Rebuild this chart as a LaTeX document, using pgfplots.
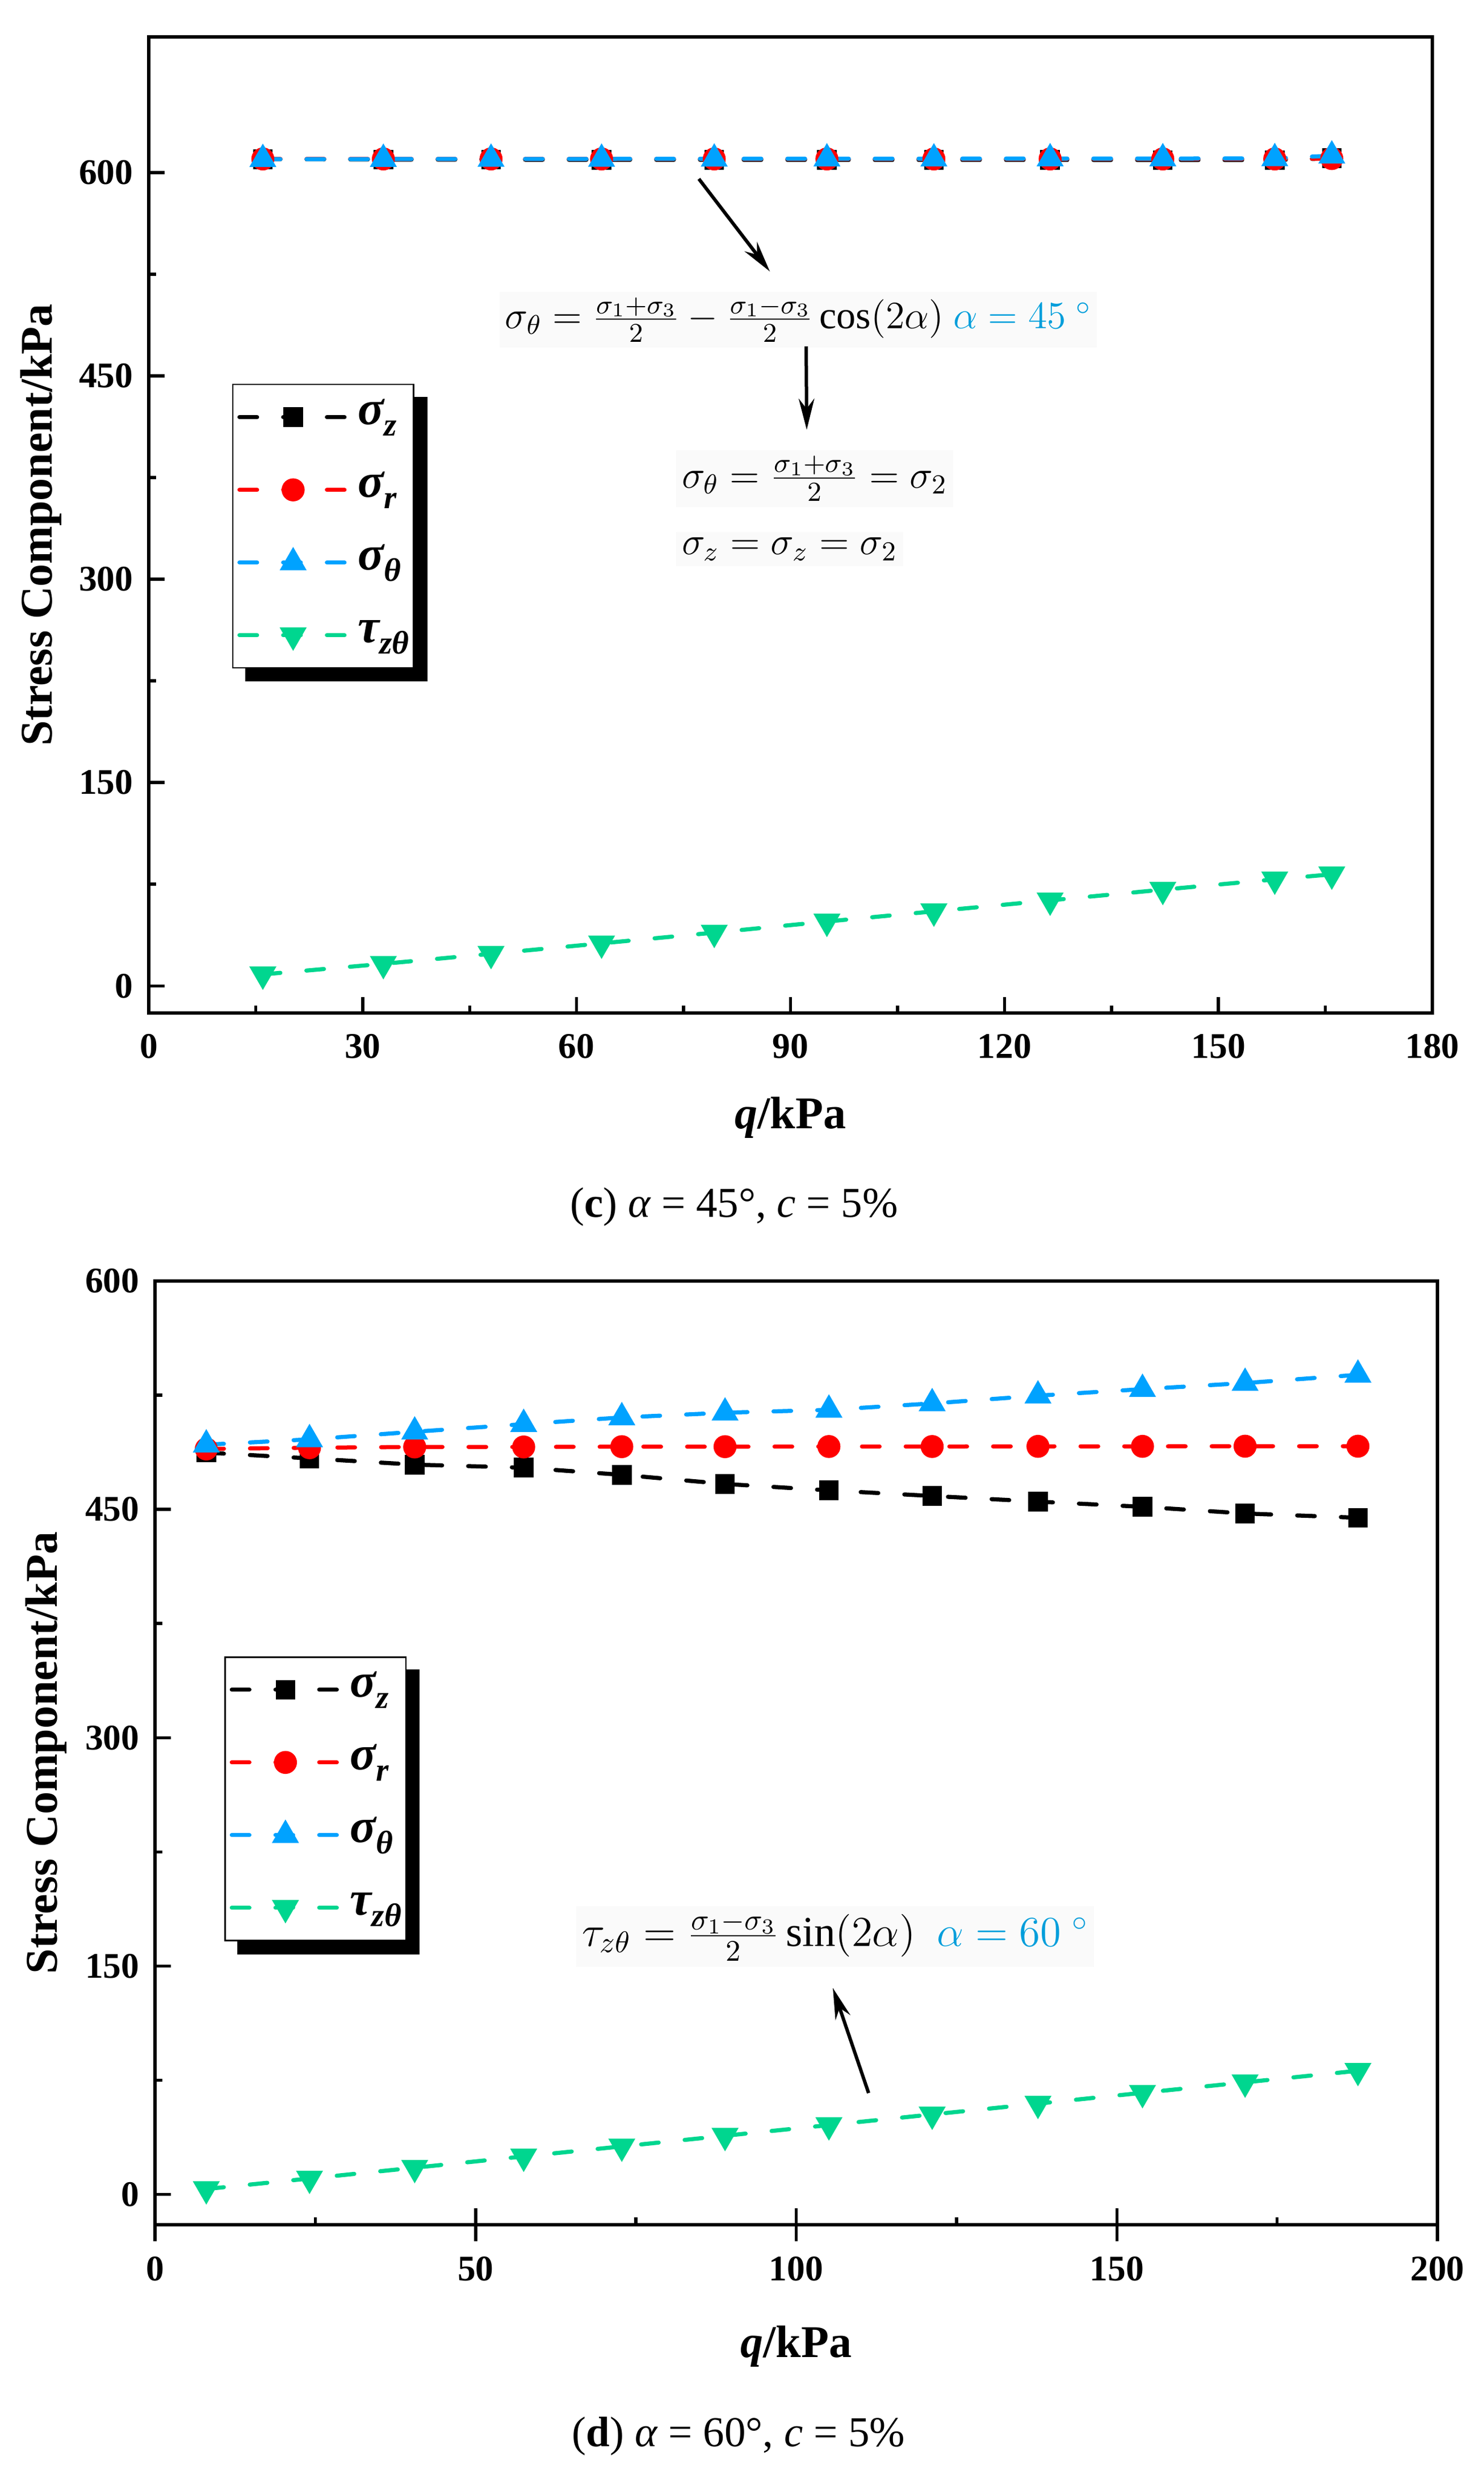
\documentclass[border=0pt]{standalone}
\usepackage{fix-cm}
\usepackage{pgfplots}
\pgfplotsset{compat=1.18}
\usepackage{fontspec}
\setmainfont{Liberation Serif}
\usetikzlibrary{arrows.meta}
\definecolor{sblue}{RGB}{0,162,255}
\definecolor{sgreen}{RGB}{0,214,143}
\definecolor{eqblue}{RGB}{0,158,219}
\newcommand\sub[1]{\raisebox{-4pt}{\fontsize{11.5}{12}\selectfont #1}}

\pgfplotsset{
  common/.style={
    scale only axis,
    axis line style={line width=1.2pt},
    tick pos=left,
    tick align=inside,
    major tick length=5.6pt,
    minor tick length=2.6pt,
    every tick/.style={black, line width=1.1pt},
    minor tick num=1,
    /pgf/number format/assume math mode=true,
    ticklabel style={font=\fontsize{12.7}{14}\selectfont\bfseries},
    yticklabel style={xshift=-2pt},
    label style={font=\fontsize{16}{18}\selectfont\bfseries},
    clip=false,
    legend cell align=left,
    legend style={anchor=north west, draw=black, line width=0.5pt, fill=white,
       font=\fontsize{17}{20}\selectfont\bfseries\itshape,
       inner xsep=1.6pt, inner ysep=3pt, row sep=8.6pt, column sep=3.7pt,
       nodes={inner sep=0pt, text height=11pt, text depth=6pt}},
    legend image code/.code={\draw[mark repeat=2,mark phase=2] plot coordinates {(0pt,0pt) (18.9pt,0pt) (37.3pt,0pt)};},
  },
  dsh/.style={line width=1.45pt, dash pattern=on 6.2pt off 9.2pt, line cap=round},
  sz/.style={dsh, black, mark=square*, mark size=3.3pt, mark options={solid, line width=0.3pt, fill=black}},
  sr/.style={dsh, red, mark=*, mark size=3.9pt, mark options={solid, line width=0.3pt, fill=red}},
  st/.style={dsh, sblue, mark=triangle*, mark size=5.2pt, mark options={solid, line width=0.3pt, fill=sblue}},
  tz/.style={dsh, sgreen, mark=triangle*, mark size=5.2pt, mark options={solid, line width=0.3pt, fill=sgreen, rotate=180}},
}

\begin{document}
\begin{tikzpicture}
\useasboundingbox (0,0) rectangle (522.6pt,-872.8pt);

% ---------------- (c) ----------------
\begin{axis}[common, at={(52.4pt,-356.8pt)}, anchor=south west,
  width=452.2pt, height=343.8pt,
  xmin=0, xmax=180, ymin=-20, ymax=700,
  xtick={0,30,...,180}, ytick={0,150,...,600},
  xlabel={{\itshape q}/kPa}, ylabel={Stress Component/kPa},
  xlabel style={at={(axis description cs:0.5,-0.107)}, anchor=center},
  ylabel style={at={(axis description cs:-0.0838,0.5)}, anchor=center},
  xticklabel style={yshift=-4pt},
  legend style={at={(axis description cs:0.065,0.6446)}, name=legc}]
\addplot[sz] coordinates {(16,609.8) (32.9,609.6) (48,609.5) (63.5,609.4) (79.3,609.4) (95.1,609.3) (110.1,609.3) (126.4,609.3) (142.2,609.2) (157.9,609.2) (165.9,610.5)};
\addplot[sr] coordinates {(16,610) (32.9,610) (48,610) (63.5,610) (79.3,610) (95.1,610) (110.1,610) (126.4,610) (142.2,610) (157.9,610) (165.9,610.3)};
\addplot[st] coordinates {(16,609.8) (32.9,609.9) (48,610) (63.5,610) (79.3,610.1) (95.1,610.2) (110.1,610.2) (126.4,610.3) (142.2,610.3) (157.9,610.4) (165.9,612.4)};
\addplot[tz] coordinates {(16,8.5) (32.9,16.3) (48,23.7) (63.5,31.4) (79.3,39.3) (95.1,47.5) (110.1,55) (126.4,63.1) (142.2,71) (157.9,78.6) (165.9,82.3)};
\legend{σ\sub{z}, σ\sub{r}, σ\sub{θ}, τ\sub{zθ}}
\end{axis}
\fill ([yshift=-4.6pt]legc.north east) rectangle ([xshift=4.6pt,yshift=-4.6pt]legc.south east);
\fill ([xshift=4.6pt]legc.south west) rectangle ([xshift=4.6pt,yshift=-4.6pt]legc.south east);

% ---------------- (d) ----------------
\begin{axis}[common, at={(54.6pt,-783.6pt)}, anchor=south west,
  width=451.8pt, height=332.4pt,
  xmin=0, xmax=200, ymin=-20, ymax=600,
  xtick={0,50,...,200}, ytick={0,150,...,600},
  extra x ticks={0,50,...,200}, extra x tick labels={},
  extra x tick style={major tick length=11.7pt, tick align=center},
  xlabel={{\itshape q}/kPa}, ylabel={Stress Component/kPa},
  xlabel style={at={(axis description cs:0.5,-0.1288)}, anchor=center},
  ylabel style={at={(axis description cs:-0.085,0.5)}, anchor=center},
  xticklabel style={yshift=-7.8pt},
  legend style={at={(axis description cs:0.0542,0.6023)}, name=legd}]
\addplot[sz] coordinates {(8,487.3) (24.1,483.5) (40.5,479.4) (57.5,477.4) (72.8,472.7) (88.9,466.7) (105.1,462.5) (121.2,458.8) (137.7,455.1) (154,451.7) (170,447.3) (187.6,444.5)};
\addplot[sr] coordinates {(8,489.7) (24.1,490.5) (40.5,491) (57.5,491) (72.8,491.2) (88.9,491.2) (105.1,491.3) (121.2,491.3) (137.7,491.4) (154,491.4) (170,491.5) (187.6,491.5)};
\addplot[st] coordinates {(8,492.5) (24.1,496) (40.5,501) (57.5,506) (72.8,510.4) (88.9,513.5) (105.1,515.4) (121.2,519.6) (137.7,524.7) (154,529) (170,533) (187.6,538.4)};
\addplot[tz] coordinates {(8,3.5) (24.1,10.4) (40.5,17.5) (57.5,24.9) (72.8,31.5) (88.9,38.5) (105.1,45.5) (121.2,52.5) (137.7,59.6) (154,66.7) (170,73.6) (187.6,81.2)};
\legend{σ\sub{z}, σ\sub{r}, σ\sub{θ}, τ\sub{zθ}}
\end{axis}
\fill ([yshift=-4.6pt]legd.north east) rectangle ([xshift=4.6pt,yshift=-4.6pt]legd.south east);
\fill ([xshift=4.6pt]legd.south west) rectangle ([xshift=4.6pt,yshift=-4.6pt]legd.south east);

% annotations (c)
\node[fill=black!2, inner sep=2pt, font=\fontsize{13.6}{17}\selectfont] at (281.2pt,-112.6pt)
  {$\sigma_\theta = \frac{\sigma_1+\sigma_3}{2} - \frac{\sigma_1-\sigma_3}{2}\cos(2\alpha)$ \textcolor{eqblue}{$\alpha = 45\ {}^{\circ}$}};
\node[fill=black!2, inner sep=2pt, anchor=west, font=\fontsize{13.8}{17}\selectfont] at (238pt,-168.6pt)
  {$\sigma_\theta = \frac{\sigma_1+\sigma_3}{2} = \sigma_2$};
\node[fill=black!2, inner sep=2pt, anchor=west, font=\fontsize{13.8}{17}\selectfont] at (238pt,-193.4pt)
  {$\sigma_z = \sigma_z = \sigma_2$};
\draw[line width=1.2pt, -{Stealth[length=11pt,width=5.5pt]}] (246.2pt,-63pt) -- (271.2pt,-95.6pt);
\draw[line width=1.2pt, -{Stealth[length=11pt,width=5.5pt]}] (284pt,-122pt) -- (284.2pt,-151.4pt);

% annotations (d)
\node[fill=black!2, inner sep=2pt, font=\fontsize{15}{18}\selectfont] at (294.2pt,-682.1pt)
  {$\tau_{z\theta} = \frac{\sigma_1-\sigma_3}{2}\sin(2\alpha)$\ \ \textcolor{eqblue}{$\alpha = 60\ {}^{\circ}$}};
\draw[line width=1.2pt, -{Stealth[length=11pt,width=5.5pt]}] (306pt,-737.2pt) -- (293.4pt,-700.2pt);

% captions
\node[font=\fontsize{15}{18}\selectfont] at (258.6pt,-425pt) {(\textbf{c}) \textit{α} = 45°, \textit{c} = 5\%};
\node[font=\fontsize{15}{18}\selectfont] at (260.2pt,-858pt) {(\textbf{d}) \textit{α} = 60°, \textit{c} = 5\%};
\end{tikzpicture}
\end{document}
